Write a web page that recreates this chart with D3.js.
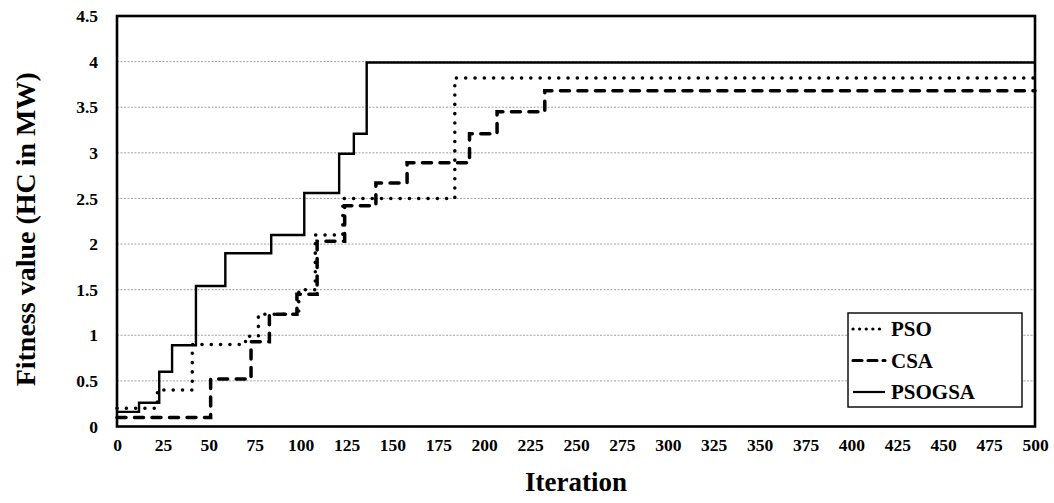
<!DOCTYPE html>
<html>
<head>
    <script type="text/javascript" src="https://d3js.org/d3.v7.min.js"></script>
    <style>
        body { margin: 0; background: #ffffff; }
        svg { display: block; }
        svg text { font-family: "Liberation Serif", "Times New Roman", serif; font-weight: bold; fill: #000; }
    </style>
</head>
<body>
    <svg></svg>
    <script>
        // Convergence curves: [iteration where the step starts, fitness value]
        const psoSteps = [[0, 0.20], [22, 0.40], [41, 0.90], [70, 0.99], [77, 1.23], [99, 1.50],
                          [108, 2.10], [123, 2.50], [184, 3.82], [500, 3.82]];
        const csaSteps = [[0, 0.10], [51, 0.52], [73, 0.93], [83, 1.23], [98, 1.45], [109, 2.03],
                          [124, 2.42], [141, 2.67], [158, 2.89], [192, 3.21], [207, 3.45], [233, 3.68], [500, 3.68]];
        const psogsaSteps = [[0, 0.16], [12, 0.26], [23, 0.60], [30, 0.89], [43, 1.54], [59, 1.90],
                             [84, 2.10], [102, 2.56], [121, 2.99], [129, 3.21], [136, 3.99], [500, 3.99]];

        const seriesNames = ["PSO", "CSA", "PSOGSA"];
        const xTicks = d3.range(0, 501, 25);
        const yTicks = [0, 0.5, 1, 1.5, 2, 2.5, 3, 3.5, 4, 4.5];

        const width = 1054, height = 503;
        const margin = {top: 16, right: 19, bottom: 76.5, left: 117};

        const svg = d3.select("svg").attr("width", width).attr("height", height);

        const x = d3.scaleLinear().domain([0, 500]).range([margin.left, width - margin.right]);
        const y = d3.scaleLinear().domain([0, 4.5]).range([height - margin.bottom, margin.top]);

        // gridlines
        svg.append("g")
            .selectAll("line")
            .data(yTicks.filter(d => d > 0 && d < 4.5))
            .enter()
            .append("line")
            .attr("x1", x(0)).attr("x2", x(500))
            .attr("y1", d => y(d)).attr("y2", d => y(d))
            .attr("stroke", "#a0a0a0")
            .attr("stroke-width", 1)
            .attr("stroke-dasharray", "2 1.5");

        // axes (labels only, the frame is drawn below)
        const xAxis = svg.append("g")
            .attr("transform", `translate(0,${y(0)})`)
            .call(d3.axisBottom(x).tickValues(xTicks).tickSize(0).tickPadding(12).tickFormat(d3.format("d")));
        xAxis.select(".domain").remove();
        xAxis.attr("font-family", null).attr("font-size", 17.5);

        const yAxis = svg.append("g")
            .attr("transform", `translate(${x(0)},0)`)
            .call(d3.axisLeft(y).tickValues(yTicks).tickSize(0).tickPadding(19).tickFormat(d => d3.format("")(d)));
        yAxis.select(".domain").remove();
        yAxis.attr("font-family", null).attr("font-size", 17.5);

        // curves
        const line = d3.line()
            .x(d => x(d[0]))
            .y(d => y(d[1]))
            .curve(d3.curveStepAfter);

        const styles = {
            PSO: {data: psoSteps, width: 3.5, dash: "0.1 9.2", cap: "round"},
            CSA: {data: csaSteps, width: 3.5, dash: "9 8.5", cap: "round"},
            PSOGSA: {data: psogsaSteps, width: 2.4, dash: null, cap: "butt"}
        };

        seriesNames.forEach(name => {
            const s = styles[name];
            svg.append("path")
                .datum(s.data)
                .attr("d", line)
                .attr("fill", "none")
                .attr("stroke", "#000")
                .attr("stroke-width", s.width)
                .attr("stroke-linecap", s.cap)
                .attr("stroke-dasharray", s.dash);
        });

        // plot frame
        svg.append("rect")
            .attr("x", x(0)).attr("y", y(4.5))
            .attr("width", x(500) - x(0))
            .attr("height", y(0) - y(4.5))
            .attr("fill", "none")
            .attr("stroke", "#000")
            .attr("stroke-width", 2.6);

        // legend
        const legend = svg.append("g");
        legend.append("rect")
            .attr("x", 848).attr("y", 313)
            .attr("width", 174).attr("height", 94)
            .attr("fill", "#fff")
            .attr("stroke", "#000")
            .attr("stroke-width", 1.4);

        const legendDash = {PSO: "0.1 6.5", CSA: "9 6", PSOGSA: null};
        seriesNames.forEach((name, i) => {
            const ly = 329 + i * 31.5;
            legend.append("line")
                .attr("x1", 853).attr("x2", 885)
                .attr("y1", ly).attr("y2", ly)
                .attr("stroke", "#000")
                .attr("stroke-width", name === "PSOGSA" ? 2.2 : 3.2)
                .attr("stroke-linecap", name === "PSOGSA" ? "butt" : "round")
                .attr("stroke-dasharray", legendDash[name]);
            legend.append("text")
                .attr("x", 891).attr("y", ly + 7)
                .attr("font-size", 21)
                .text(name);
        });

        // axis titles
        svg.append("text")
            .attr("x", (x(0) + x(500)) / 2)
            .attr("y", 491)
            .attr("text-anchor", "middle")
            .attr("font-size", 27)
            .text("Iteration");

        svg.append("text")
            .attr("transform", `translate(35,${(y(0) + y(4.5)) / 2 + 8}) rotate(-90)`)
            .attr("text-anchor", "middle")
            .attr("font-size", 28)
            .text("Fitness value (HC in MW)");
    </script>
</body>
</html>
